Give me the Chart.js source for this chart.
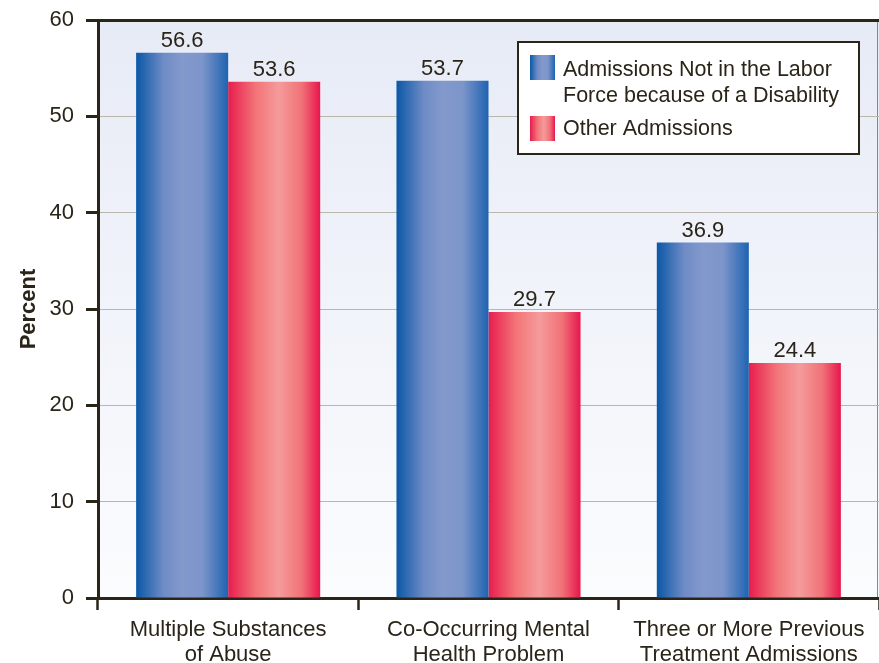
<!DOCTYPE html>
<html>
<head>
<meta charset="utf-8">
<script src="https://cdn.jsdelivr.net/npm/chart.js@4.4.1/dist/chart.umd.min.js"></script>
<style>
  html, body { margin: 0; padding: 0; background: #fff; }
  canvas { display: block; }
</style>
</head>
<body>
<canvas id="admissionsChart" width="879" height="663"></canvas>
<script>
// data
var categories = [
    ['Multiple Substances', 'of Abuse'],
    ['Co-Occurring Mental', 'Health Problem'],
    ['Three or More Previous', 'Treatment Admissions']
];
var disabilityValues = [56.6, 53.7, 36.9];
var otherValues = [53.6, 29.7, 24.4];
var seriesNames = [
    'Admissions Not in the Labor Force because of a Disability',
    'Other Admissions'
];
var legendLines = [
    ['Admissions Not in the Labor', 'Force because of a Disability'],
    ['Other Admissions']
];
var yMin = 0, yMax = 60, yStep = 10;

var dark = '#2a2419';
var gridGrey = '#bab6ac';
var fontFamily = "'Liberation Sans', Arial, Helvetica, sans-serif";
var textSize = 22;

// colour stops for the shaded bars (blue, red)
var shades = [
    [[0, '#0b57a6'], [0.3, '#6f8cc6'], [0.5, '#8399cc'], [0.72, '#7c95ca'], [1, '#1f63b1']],
    [[0, '#e81d4d'], [0.3, '#f27478'], [0.55, '#f59b9b'], [0.8, '#f07277'], [1, '#e8154d']]
];

function makeShade(ctx, x, w, idx) {
    var g = ctx.createLinearGradient(x, 0, x + w, 0);
    shades[idx].forEach(function (s) { g.addColorStop(s[0], s[1]); });
    return g;
}

var plotBackground = {
    id: 'plotBackground',
    beforeDraw: function (chart) {
        var ctx = chart.ctx, a = chart.chartArea;
        ctx.save();
        ctx.fillStyle = '#fff';
        ctx.fillRect(0, 0, chart.width, chart.height);
        var g = ctx.createLinearGradient(0, a.top, 0, a.bottom);
        g.addColorStop(0, '#e7ebf6');
        g.addColorStop(1, '#fbfcfe');
        ctx.fillStyle = g;
        ctx.fillRect(a.left, a.top, a.right - a.left, a.bottom - a.top);
        ctx.strokeStyle = '#8a877f';
        ctx.lineWidth = 1;
        ctx.beginPath();
        ctx.moveTo(a.right - 1.5, a.top);
        ctx.lineTo(a.right - 1.5, a.bottom);
        ctx.stroke();
        ctx.restore();
    }
};

var barShade = {
    id: 'barShade',
    beforeDatasetsDraw: function (chart) {
        var ctx = chart.ctx;
        chart.data.datasets.forEach(function (ds, i) {
            chart.getDatasetMeta(i).data.forEach(function (bar) {
                var p = bar.getProps(['x', 'width'], true);
                var g = makeShade(ctx, p.x - p.width / 2, p.width, i);
                bar.options = Object.assign({}, bar.options, { backgroundColor: g });
            });
        });
    },
    afterDatasetsDraw: function (chart) {
        var ctx = chart.ctx;
        ctx.save();
        ctx.font = textSize + 'px ' + fontFamily;
        ctx.fillStyle = dark;
        ctx.textAlign = 'center';
        ctx.textBaseline = 'middle';
        chart.data.datasets.forEach(function (ds, i) {
            chart.getDatasetMeta(i).data.forEach(function (bar, j) {
                ctx.fillText(ds.data[j].toFixed(1), bar.x, bar.y - 12);
            });
        });
        ctx.restore();
    }
};

var boxLegend = {
    id: 'boxLegend',
    afterDraw: function (chart) {
        var ctx = chart.ctx;
        var bx = 518, by = 42, bw = 341, bh = 112;
        ctx.save();
        ctx.fillStyle = '#fff';
        ctx.fillRect(bx, by, bw, bh);
        ctx.strokeStyle = dark;
        ctx.lineWidth = 2;
        ctx.strokeRect(bx, by, bw, bh);
        ctx.font = '21.5px ' + fontFamily;
        ctx.textAlign = 'left';
        ctx.textBaseline = 'middle';
        var swatchTops = [55, 116];
        var lineCenters = [[70, 96], [129]];
        legendLines.forEach(function (lines, i) {
            ctx.fillStyle = makeShade(ctx, 530, 25, i);
            ctx.fillRect(530, swatchTops[i], 25, 25);
            ctx.fillStyle = dark;
            lines.forEach(function (t, k) {
                ctx.fillText(t, 563, lineCenters[i][k]);
            });
        });
        ctx.restore();
    }
};

Chart.defaults.font.family = fontFamily;
Chart.defaults.font.size = textSize;
Chart.defaults.color = dark;

var chart = new Chart(document.getElementById('admissionsChart').getContext('2d'), {
    type: 'bar',
    data: {
        labels: categories,
        datasets: [{
            label: seriesNames[0],
            data: disabilityValues,
            backgroundColor: '#4a76bb',
            borderWidth: 0
        }, {
            label: seriesNames[1],
            data: otherValues,
            backgroundColor: '#f07077',
            borderWidth: 0
        }]
    },
    options: {
        responsive: false,
        animation: false,
        events: [],
        layout: { padding: { top: 20, right: 0, left: 0, bottom: 0 } },
        datasets: {
            bar: { categoryPercentage: 0.707, barPercentage: 1.0 }
        },
        plugins: {
            legend: { display: false },
            tooltip: { enabled: false }
        },
        scales: {
            x: {
                afterFit: function (scale) { scale.height = 65; },
                grid: {
                    offset: true,
                    drawOnChartArea: false,
                    drawTicks: true,
                    tickLength: 12,
                    tickColor: dark,
                    tickWidth: 2.5
                },
                border: { color: dark, width: 3 },
                ticks: {
                    padding: 7,
                    maxRotation: 0,
                    autoSkip: false,
                    color: dark,
                    font: { size: textSize, lineHeight: 1.14 }
                }
            },
            y: {
                min: yMin,
                max: yMax,
                afterFit: function (scale) {
                    scale.width = 98;
                    scale.paddingTop = 0;
                    scale.paddingBottom = 0;
                },
                ticks: { stepSize: yStep, padding: 12, color: dark },
                grid: {
                    color: function (c) {
                        if (c.tick.value === yMax) return dark;
                        if (c.tick.value === yMin) return 'rgba(0,0,0,0)';
                        return gridGrey;
                    },
                    lineWidth: function (c) { return c.tick.value === yMax ? 3 : 1; },
                    tickColor: dark,
                    tickWidth: 3,
                    tickLength: 12
                },
                border: { color: dark, width: 3 },
                title: {
                    display: true,
                    text: 'Percent',
                    color: dark,
                    font: { size: textSize, weight: 'bold' },
                    padding: { top: 16, bottom: 0 }
                }
            }
        }
    },
    plugins: [plotBackground, barShade, boxLegend]
});
</script>
</body>
</html>
